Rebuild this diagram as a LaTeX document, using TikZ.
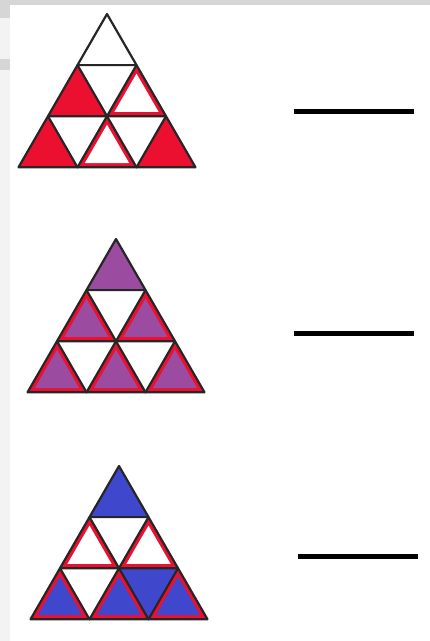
\documentclass[tikz,border=0pt]{standalone}
\usetikzlibrary{calc}
\definecolor{cred}{RGB}{236,16,48}
\definecolor{cpurple}{RGB}{155,75,160}
\definecolor{cblue}{RGB}{63,72,204}
\definecolor{artgrey}{RGB}{214,214,214}
\definecolor{artlight}{RGB}{243,243,243}
\newcommand\lattice[3]{%
  \foreach \r in {0,...,3}{\foreach \c in {0,...,\r}{%
    \coordinate (#1\r\c) at ({#2+(\c-\r/2)*59},{#3+\r*51.1});
  }}}
\newcommand\plaincell[4]{\fill[#4] (#1)--(#2)--(#3)--cycle;}
\newcommand\bordcell[4]{%
  \fill[cred] (#1)--(#2)--(#3)--cycle;
  \coordinate (cc) at (barycentric cs:#1=1,#2=1,#3=1);
  \fill[#4] ($(cc)!0.75!(#1)$)--($(cc)!0.75!(#2)$)--($(cc)!0.75!(#3)$)--cycle;}
\newcommand\grid[1]{%
  \foreach \r/\n in {0/1,1/2,2/3}{\foreach \c in {1,...,\n}{%
    \pgfmathtruncatemacro\cc{\c-1}\pgfmathtruncatemacro\rr{\r+1}%
    \draw[edge] (#1\r\cc)--(#1\rr\cc)--(#1\rr\c)--cycle;
  }}}
\begin{document}
\begin{tikzpicture}[x=1pt,y=-1pt,edge/.style={draw=black!85,line width=2.2pt,line join=round}]
\useasboundingbox (0,0) rectangle (430,641);
\fill[white] (0,0) rectangle (430,641);
% screenshot artifacts
\fill[artlight] (0,0) rectangle (10,641);
\fill[artgrey] (0,0) rectangle (430,4.5);
\fill[artgrey] (0,0) rectangle (10,18);
\fill[artgrey] (0,59) rectangle (10,70);
% line blanks
\draw[line width=5pt] (294,111) coordinate (l1a) -- (414,111) coordinate (l1b);
\draw[line width=5pt] (294,333) coordinate (l2a) -- (414,333) coordinate (l2b);
\draw[line width=5pt] (298,556) coordinate (l3a) -- (418,556) coordinate (l3b);
% Triangle 1
\lattice{A}{107}{14}
\plaincell{A10}{A20}{A21}{cred}
\bordcell{A11}{A21}{A22}{white}
\plaincell{A20}{A30}{A31}{cred}
\bordcell{A21}{A31}{A32}{white}
\plaincell{A22}{A32}{A33}{cred}
\grid{A}
% Triangle 2
\lattice{B}{116}{239}
\plaincell{B00}{B10}{B11}{cpurple}
\bordcell{B10}{B20}{B21}{cpurple}
\bordcell{B11}{B21}{B22}{cpurple}
\bordcell{B20}{B30}{B31}{cpurple}
\bordcell{B21}{B31}{B32}{cpurple}
\bordcell{B22}{B32}{B33}{cpurple}
\grid{B}
% Triangle 3
\lattice{C}{119}{466}
\plaincell{C00}{C10}{C11}{cblue}
\bordcell{C10}{C20}{C21}{white}
\bordcell{C11}{C21}{C22}{white}
\bordcell{C20}{C30}{C31}{cblue}
\bordcell{C21}{C31}{C32}{cblue}
\plaincell{C21}{C22}{C32}{cblue}
\bordcell{C22}{C32}{C33}{cblue}
\grid{C}
\end{tikzpicture}
\end{document}
